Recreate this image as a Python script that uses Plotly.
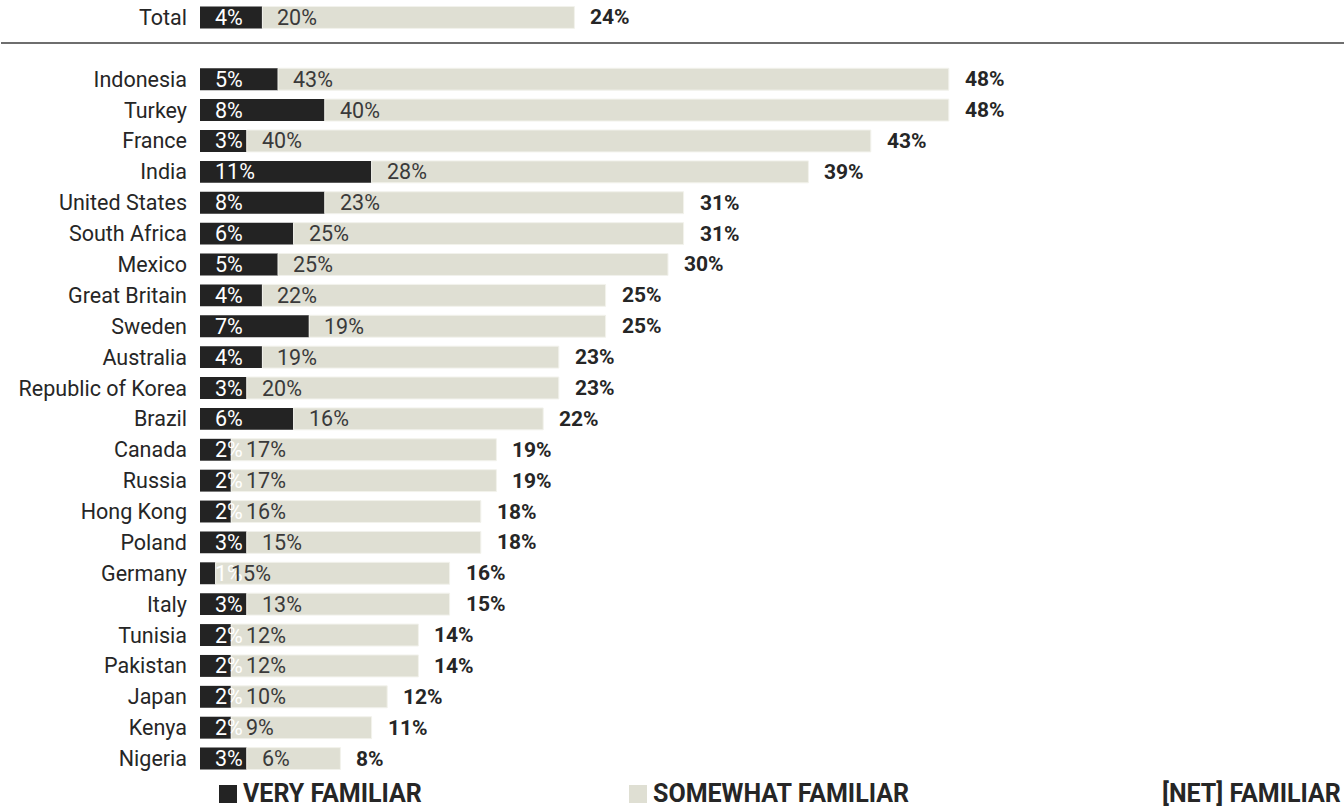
import plotly.graph_objects as go

# Familiarity by country, percentages
countries = ["Total", "Indonesia", "Turkey", "France", "India", "United States",
             "South Africa", "Mexico", "Great Britain", "Sweden", "Australia",
             "Republic of Korea", "Brazil", "Canada", "Russia", "Hong Kong",
             "Poland", "Germany", "Italy", "Tunisia", "Pakistan", "Japan",
             "Kenya", "Nigeria"]
very_familiar = [4, 5, 8, 3, 11, 8, 6, 5, 4, 7, 4, 3, 6, 2, 2, 2, 3, 1, 3, 2, 2, 2, 2, 3]
somewhat_familiar = [20, 43, 40, 40, 28, 23, 25, 25, 22, 19, 19, 20, 16, 17, 17, 16,
                     15, 15, 13, 12, 12, 10, 9, 6]
net_familiar = [24, 48, 48, 43, 39, 31, 31, 30, 25, 25, 23, 23, 22, 19, 19, 18,
                18, 16, 15, 14, 14, 12, 11, 8]

# Row positions: Total on its own, one empty row, then the countries
rows = [0] + [i + 2 for i in range(len(countries) - 1)]

W, H = 1344, 810
ML, MR, MT, MB = 200, 0, 2, 36
plot_w = W - ML - MR
plot_h = H - MT - MB
X_MAX = plot_w / 15.6
Y_LO, Y_HI = -0.5, rows[-1] + 0.5

DARK = "#232323"
LIGHT = "#DFDFD3"
FONT = "Roboto"
SIZE = 21.5


def px_to_paper_x(px):
    return (px - ML) / plot_w


def px_to_paper_y(py):
    return 1 - (py - MT) / plot_h


fig = go.Figure()
fig.add_trace(go.Bar(
    y=rows, x=very_familiar, orientation="h", name="VERY FAMILIAR",
    marker=dict(color=DARK, line=dict(width=0)), width=0.71,
    hoverinfo="x+text", hovertext=countries,
))
fig.add_trace(go.Bar(
    y=rows, x=somewhat_familiar, base=very_familiar, orientation="h",
    name="SOMEWHAT FAMILIAR",
    marker=dict(color=LIGHT, line=dict(color="#F2F2EC", width=1)), width=0.71,
    hoverinfo="x+text", hovertext=countries,
))

annotations = []
for r, v, s, n in zip(rows, very_familiar, somewhat_familiar, net_familiar):
    annotations.append(dict(x=0, y=r, xref="x", yref="y", text=f"{v}%",
                            showarrow=False, xanchor="left", xshift=13,
                            font=dict(family=FONT, size=SIZE, color="white")))
    annotations.append(dict(x=v, y=r, xref="x", yref="y", text=f"{s}%",
                            showarrow=False, xanchor="left", xshift=13,
                            font=dict(family=FONT, size=SIZE, color="#3A3A3A")))
    annotations.append(dict(x=v + s, y=r, xref="x", yref="y", text=f"<b>{n}%</b>",
                            showarrow=False, xanchor="left", xshift=14,
                            font=dict(family=FONT, size=21, color="#262626")))

# Legend drawn along the bottom edge
LEG_SIZE = 25
legend_items = [("VERY FAMILIAR", DARK, 219), ("SOMEWHAT FAMILIAR", LIGHT, 629)]
shapes = []
for label, color, sq_x in legend_items:
    shapes.append(dict(type="rect", xref="paper", yref="paper",
                       x0=px_to_paper_x(sq_x), x1=px_to_paper_x(sq_x + 18),
                       y0=px_to_paper_y(803), y1=px_to_paper_y(785),
                       fillcolor=color, line=dict(width=0)))
    annotations.append(dict(x=px_to_paper_x(sq_x + 22), y=px_to_paper_y(810),
                            xref="paper", yref="paper",
                            text=f"<b>{label}</b>", showarrow=False, xanchor="left",
                            yanchor="bottom",
                            font=dict(family=FONT, size=LEG_SIZE, color="#262626")))
annotations.append(dict(x=px_to_paper_x(1343), y=px_to_paper_y(810),
                        xref="paper", yref="paper",
                        text="<b>[NET] FAMILIAR</b>", showarrow=False, xanchor="right",
                        yanchor="bottom",
                        font=dict(family=FONT, size=LEG_SIZE, color="#262626")))

# Divider between Total and the countries
sep_paper_y = (Y_HI - 0.83) / (Y_HI - Y_LO)
shapes.append(dict(type="line", xref="paper", yref="paper",
                   x0=px_to_paper_x(1), x1=1, y0=sep_paper_y, y1=sep_paper_y,
                   line=dict(color="#6E6E6E", width=2)))

fig.update_layout(
    width=W, height=H, barmode="overlay",
    margin=dict(l=ML, r=MR, t=MT, b=MB),
    paper_bgcolor="white", plot_bgcolor="white",
    showlegend=False,
    font=dict(family=FONT, size=SIZE, color="#262626"),
    xaxis=dict(range=[0, X_MAX], visible=False, fixedrange=True),
    yaxis=dict(range=[Y_HI, Y_LO], tickvals=rows, ticktext=countries,
               showgrid=False, zeroline=False, showline=False, ticks="",
               ticklabelstandoff=12,
               tickfont=dict(family=FONT, size=SIZE, color="#262626")),
    annotations=annotations, shapes=shapes,
)

fig.write_html("out.html")
